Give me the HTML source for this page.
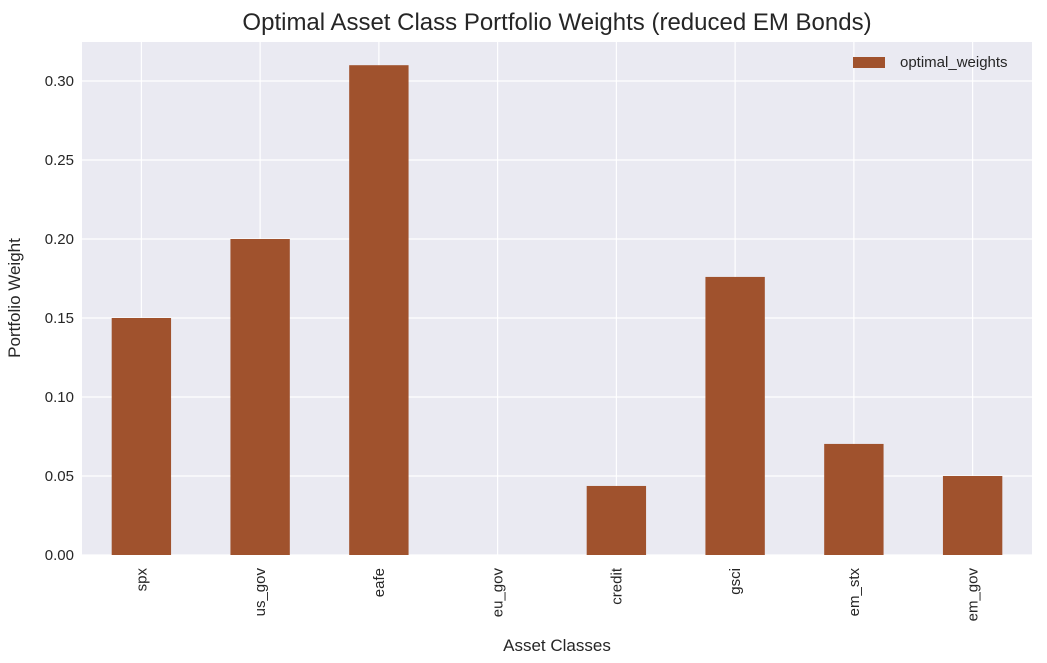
<!DOCTYPE html>
<html><head><meta charset="utf-8"><style>
body{margin:0;background:#fff}
svg text{font-family:"Liberation Sans",Arial,sans-serif;fill:#262626}
</style></head><body>
<svg id="c" width="1047" height="658" xmlns="http://www.w3.org/2000/svg">
<rect x="82" y="42" width="950" height="513" fill="#eaeaf2"/>
<g id="grid"></g><g id="bars"></g><g id="axes"></g>
<text x="557" y="30" font-size="24" text-anchor="middle">Optimal Asset Class Portfolio Weights (reduced EM Bonds)</text>
<text x="557" y="651" font-size="17" text-anchor="middle">Asset Classes</text>
<text transform="translate(20,298) rotate(-90)" font-size="17" text-anchor="middle">Portfolio Weight</text>
<g>
<rect x="853" y="57" width="32" height="11" fill="#a0522d"/>
<text x="900" y="67" font-size="15">optimal_weights</text>
</g>
</svg>
<script>
const categories=["spx","us_gov","eafe","eu_gov","credit","gsci","em_stx","em_gov"];
const values=[0.15,0.20,0.31,0.0,0.0437,0.176,0.0703,0.05];
const yTicks=[0,0.05,0.10,0.15,0.20,0.25,0.30];
const yTickLabels=["0.00","0.05","0.10","0.15","0.20","0.25","0.30"];
const L=82,R=1032,T=42,B=555,NS="http://www.w3.org/2000/svg";
const y=v=>B-v*(B-81)/0.30;
const bw=(R-L)/categories.length;
const x=i=>L+bw*(i+0.5);
function mk(t,a,p){const e=document.createElementNS(NS,t);for(const k in a)e.setAttribute(k,a[k]);p.appendChild(e);return e;}
const g=document.getElementById('grid'),b=document.getElementById('bars'),ax=document.getElementById('axes');
yTicks.forEach((v,i)=>{
 const l=mk('line',{x1:L,x2:R,y1:y(v),y2:y(v),stroke:'#fff','stroke-width':1.2},g);
 
 
 const t=mk('text',{x:L-8,y:y(v)+5,'font-size':15,'text-anchor':'end'},ax);
 t.textContent=yTickLabels[i];
 
 
});
categories.forEach((c,i)=>{
 const l=mk('line',{x1:x(i),x2:x(i),y1:T,y2:B,stroke:'#fff','stroke-width':1.2},g);
 
 
 const r=mk('rect',{x:x(i)-bw/4,width:bw/2,y:y(values[i]),height:B-y(values[i]),fill:'#a0522d'},b);
 
 
 const t=mk('text',{transform:`translate(${x(i)+5},568) rotate(-90)`,'font-size':15,'text-anchor':'end'},ax);
 t.textContent=c;
 
 
});
</script>
</body></html>
